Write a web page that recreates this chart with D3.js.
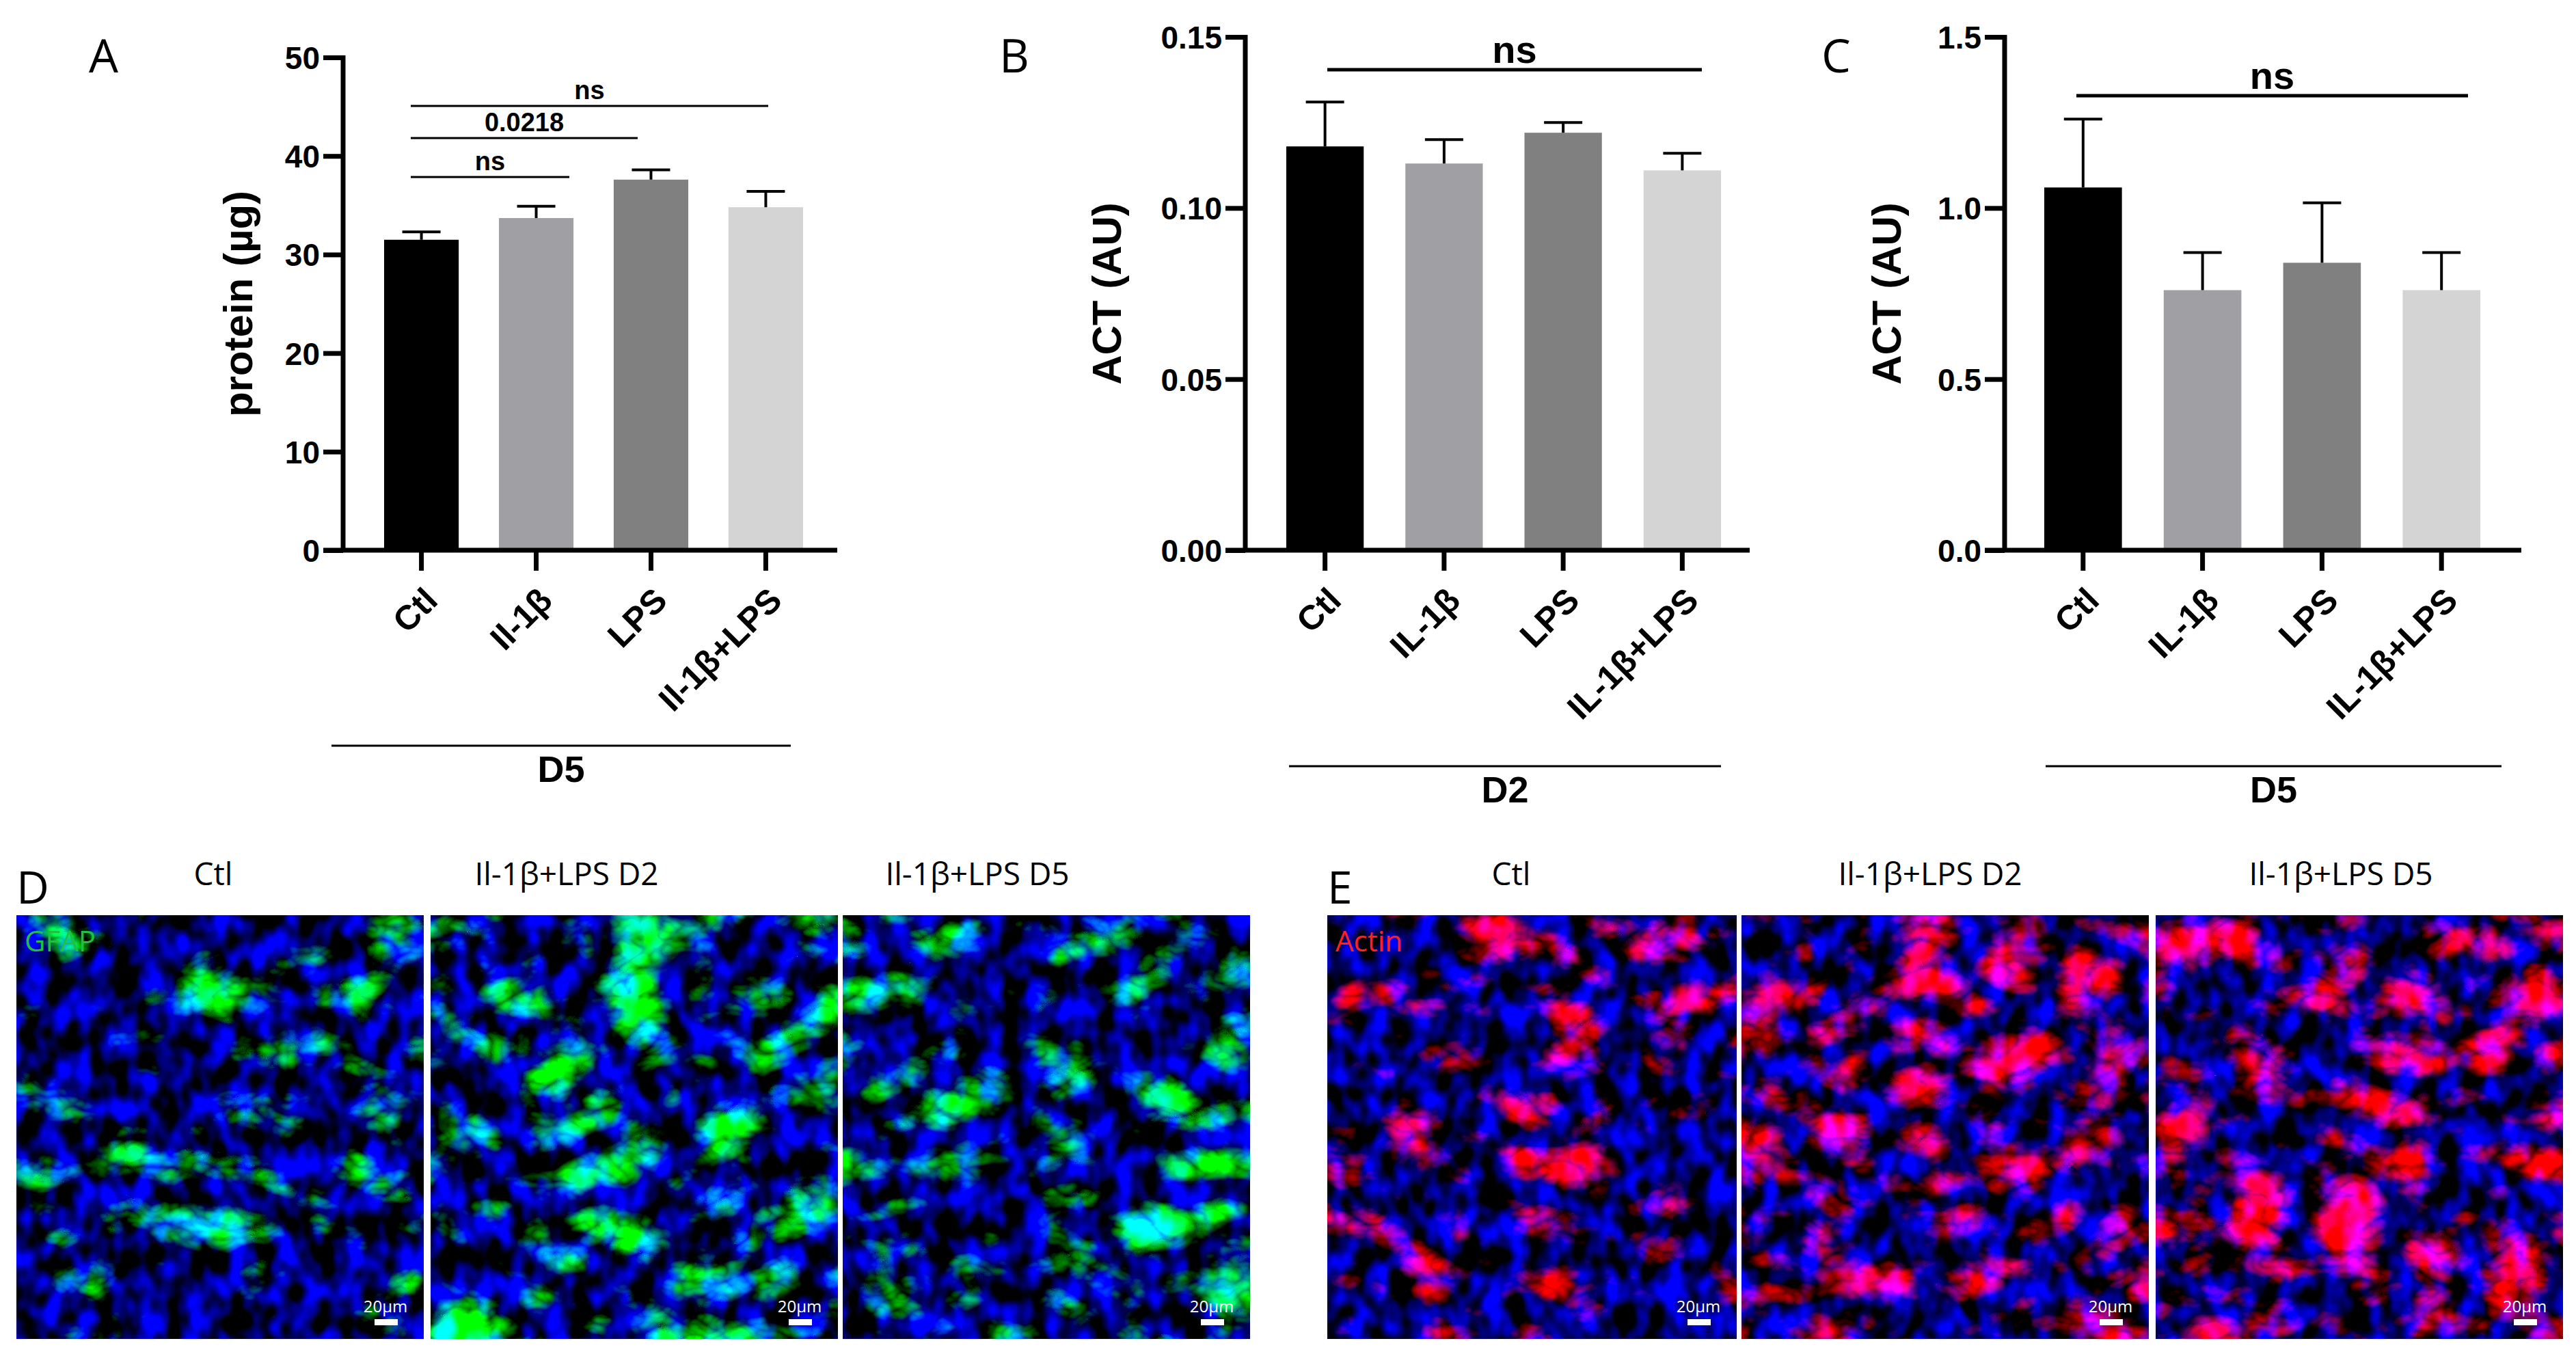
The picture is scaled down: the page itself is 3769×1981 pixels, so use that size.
<!DOCTYPE html>
<html><head><meta charset="utf-8">
<script src="https://cdn.jsdelivr.net/npm/d3@7"></script>
<style>body{margin:0;background:#fff}svg{display:block}</style>
</head><body>
<script>
const colors = ["#000000","#a0a0a4","#808080","#d4d4d4"];
const catsA = ["Ctl","Il-1β","LPS","Il-1β+LPS"];
const catsBC = ["Ctl","IL-1β","LPS","IL-1β+LPS"];
const meanA = [31.5,33.7,37.6,34.8];
const errA = [0.8,1.2,1.0,1.6];
const meanB = [0.118,0.113,0.122,0.111];
const errB = [0.013,0.007,0.003,0.005];
const meanC = [1.06,0.76,0.84,0.76];
const errC = [0.20,0.11,0.175,0.11];
const ticksA = [0,10,20,30,40,50];
const ticksB = [0,0.05,0.10,0.15];
const ticksC = [0,0.5,1.0,1.5];
const imgTitles = ["Ctl","Il-1β+LPS D2","Il-1β+LPS D5"];
const greenLevel = [0.42,0.30,0.34];
const redLevel = [0.36,0.26,0.26];

const W=3769,H=1981;
const svg=d3.select("body").append("svg").attr("width",W).attr("height",H);
const F="Arial, 'Liberation Sans', sans-serif";
const FL="'Open Sans', 'Liberation Sans', sans-serif";

function chart(o){
  const g=svg.append("g");
  const y=d3.scaleLinear().domain(o.domain).range([805,o.top]);
  const n=o.cats.length, step=(o.b1-o.b0)/(n-1+(1-o.pi));
  const xs=d3.scaleBand().domain(o.cats).range([o.b0, o.b0+step*n - step*o.pi]).paddingInner(o.pi).paddingOuter(0);
  g.selectAll("rect.bar").data(o.vals).join("rect").attr("class","bar")
    .attr("x",(d,i)=>xs(o.cats[i])).attr("width",xs.bandwidth())
    .attr("y",d=>y(d)).attr("height",d=>y(0)-y(d)).attr("fill",(d,i)=>colors[i]);
  g.selectAll("g.err").data(o.vals).join("g").each(function(d,i){
    const cx=xs(o.cats[i])+xs.bandwidth()/2, top=y(d+o.errs[i]);
    const e=d3.select(this);
    e.append("line").attr("x1",cx).attr("x2",cx).attr("y1",y(d)).attr("y2",top).attr("stroke","#000").attr("stroke-width",4);
    e.append("line").attr("x1",cx-28).attr("x2",cx+28).attr("y1",top).attr("y2",top).attr("stroke","#000").attr("stroke-width",4);
  });
  const ya=g.append("g").attr("transform",`translate(${o.x0},0)`)
    .call(d3.axisLeft(y).tickValues(o.ticks).tickFormat(o.fmt).tickSize(29).tickSizeOuter(0));
  ya.select(".domain").attr("stroke-width",7).attr("d",`M0,${y(0)+3}V${o.top-3}`);
  ya.selectAll(".tick line").attr("stroke-width",7);
  ya.selectAll("text").attr("font-family",F).attr("font-weight","bold").attr("font-size",46).attr("dx",-2).attr("dy","0.36em");
  const xa=g.append("g").attr("transform",`translate(0,${y(0)})`);
  xa.append("line").attr("x1",o.x0-29).attr("x2",o.x1).attr("stroke","#000").attr("stroke-width",7);
  o.cats.forEach((c,i)=>{
    const cx=xs(c)+xs.bandwidth()/2;
    xa.append("line").attr("x1",cx).attr("x2",cx).attr("y1",0).attr("y2",30).attr("stroke","#000").attr("stroke-width",7);
    xa.append("text").attr("transform",`translate(${cx+14},${64}) rotate(-45)`).attr("text-anchor","end")
      .attr("dy","0.35em").attr("font-family",F).attr("font-weight","bold").attr("font-size",50).text(c);
  });
  g.append("text").attr("transform",`translate(${o.ylx},${(805+o.top)/2}) rotate(-90)`).attr("text-anchor","middle")
    .attr("dy","0.35em").attr("font-family",F).attr("font-weight","bold").attr("font-size",60).text(o.ylab);
  g.append("text").attr("x",o.lx).attr("y",106).attr("font-family",FL).attr("font-size",68).text(o.letter);
  o.sig.forEach(s=>{
    g.append("line").attr("x1",s.x1).attr("x2",s.x2).attr("y1",s.y).attr("y2",s.y).attr("stroke","#000").attr("stroke-width",s.w);
    g.append("text").attr("x",(s.x1+s.x2)/2).attr("y",s.y-10).attr("text-anchor","middle").attr("font-family",F)
      .attr("font-weight","bold").attr("font-size",s.fs).text(s.t);
  });
  g.append("line").attr("x1",o.g0).attr("x2",o.g1).attr("y1",o.gy).attr("y2",o.gy).attr("stroke","#000").attr("stroke-width",3);
  g.append("text").attr("x",(o.g0+o.g1)/2).attr("y",o.gy+34).attr("dy","0.35em").attr("text-anchor","middle")
    .attr("font-family",F).attr("font-weight","bold").attr("font-size",54).text(o.glab);
}

chart({cats:catsA,vals:meanA,errs:errA,domain:[0,50],ticks:ticksA,fmt:d3.format("d"),top:84,x0:502,x1:1225,b0:562,b1:1175,pi:0.35,
  ylx:348,ylab:"protein (µg)",lx:130,letter:"A",
  sig:[{x1:601,x2:833,y:259,t:"ns",w:3,fs:38},{x1:601,x2:933,y:202,t:"0.0218",w:3,fs:38},{x1:601,x2:1124,y:155,t:"ns",w:3,fs:38}],
  g0:485,g1:1157,gy:1091,glab:"D5"});
chart({cats:catsBC,vals:meanB,errs:errB,domain:[0,0.15],ticks:ticksB,fmt:d3.format(".2f"),top:54,x0:1822,x1:2560,b0:1882,b1:2518,pi:0.35,
  ylx:1619,ylab:"ACT (AU)",lx:1462,letter:"B",
  sig:[{x1:1942,x2:2490,y:102,t:"ns",w:5,fs:56}],
  g0:1886,g1:2518,gy:1121,glab:"D2"});
chart({cats:catsBC,vals:meanC,errs:errC,domain:[0,1.5],ticks:ticksC,fmt:d3.format(".1f"),top:54,x0:2933,x1:3689,b0:2991,b1:3629,pi:0.35,
  ylx:2760,ylab:"ACT (AU)",lx:2665,letter:"C",
  sig:[{x1:3038,x2:3611,y:140,t:"ns",w:5,fs:56}],
  g0:2993,g1:3660,gy:1121,glab:"D5"});

// microscopy panels (procedural texture)
const defs=svg.append("defs");
function mkFilter(id,chan,level,seed){
  const f=defs.append("filter").attr("id",id).attr("x",0).attr("y",0).attr("width",1).attr("height",1)
    .attr("color-interpolation-filters","sRGB");
  f.append("feTurbulence").attr("type","turbulence").attr("baseFrequency","0.008 0.012").attr("numOctaves",4).attr("seed",seed).attr("result","n1");
  const g = 3.2, off = -level*3.2;
  const m = chan==="g" ? `0 0 0 0 0  ${g} 0 0 0 ${off}  0 0 0 0 0  0 0 0 0 1`
                       : `${g} 0 0 0 ${off}  0 0 0 0 0  0 0 0 0 0  0 0 0 0 1`;
  f.append("feColorMatrix").attr("in","n1").attr("type","matrix").attr("values",m).attr("result","c1");
  f.append("feTurbulence").attr("type","fractalNoise").attr("baseFrequency","0.03 0.022").attr("numOctaves",2).attr("seed",seed+7).attr("result","n2");
  f.append("feColorMatrix").attr("in","n2").attr("type","matrix")
    .attr("values","0 0 0 0 0  0 0 0 0 0  3 0 0 0 -1.1  0 0 0 0 1").attr("result","c2");
  f.append("feBlend").attr("in","c1").attr("in2","c2").attr("mode","screen");
}
const panelsD=[[24,620],[630,1226],[1233,1829]];
const panelsE=[[1942,2541],[2548,3144],[3154,3750]];
const titlesX=[[312,829,1430],[2211,2824,3425]];
[[panelsD,"g",greenLevel,"D","GFAP","#22c040"],[panelsE,"r",redLevel,"E","Actin","#ff2020"]].forEach((s,k)=>{
  s[0].forEach((p,i)=>{
    const id=`f${k}${i}`; mkFilter(id,s[1],s[2][i],11+i*5+k*3);
    svg.append("rect").attr("x",p[0]).attr("y",1339).attr("width",p[1]-p[0]).attr("height",620).attr("fill","#000").attr("filter",`url(#${id})`);
    svg.append("text").attr("x",p[1]-56).attr("y",1920).attr("text-anchor","middle").attr("fill","#fff")
      .attr("font-family",FL).attr("font-size",24).text("20µm");
    svg.append("rect").attr("x",p[1]-72).attr("y",1930).attr("width",34).attr("height",9).attr("fill","#fff");
    svg.append("text").attr("x",titlesX[k][i]).attr("y",1295).attr("text-anchor","middle").attr("font-family",FL)
      .attr("font-size",46).text(imgTitles[i]);
  });
  svg.append("text").attr("x",s[0][0][0]).attr("y",1322).attr("font-family",FL).attr("font-size",66).text(s[3]);
  svg.append("text").attr("x",s[0][0][0]+12).attr("y",1392).attr("font-family",FL).attr("font-size",42).attr("fill",s[5]).text(s[4]);
});
</script>
</body></html>
